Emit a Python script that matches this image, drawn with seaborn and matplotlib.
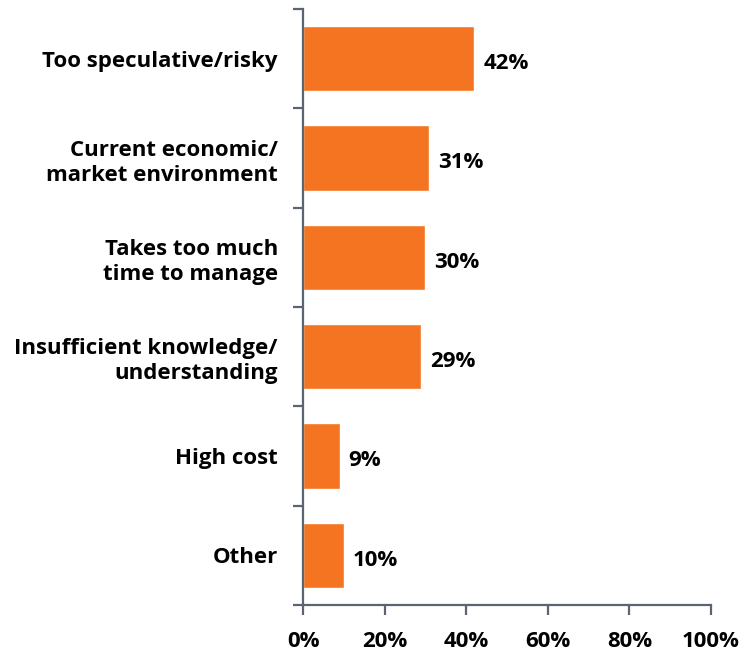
import matplotlib
matplotlib.use("Agg")
import matplotlib.pyplot as plt
from matplotlib.ticker import FixedLocator, PercentFormatter
import seaborn as sns
import pandas as pd
import numpy as np

categories = [
    "Too speculative/risky",
    "Current economic/\nmarket environment",
    "Takes too much\ntime to manage",
    "Insufficient knowledge/\nunderstanding",
    "High cost",
    "Other",
]
values = [42, 31, 30, 29, 9, 10]
x_ticks = [0, 20, 40, 60, 80, 100]

sns.set_style("white")
plt.rcParams["font.family"] = ["Open Sans", "DejaVu Sans"]

BAR = "#F47421"
AXIS = "#5B6470"
FS = 16

df = pd.DataFrame({"reason": categories, "pct": values})

fig = plt.figure(figsize=(7.45, 6.55), dpi=100)
ax = fig.add_axes([303 / 745, 50 / 655, 408 / 745, 596 / 655])

sns.barplot(data=df, x="pct", y="reason", orient="h", color=BAR,
            width=0.66, saturation=1, ax=ax)

ax.set_xlim(0, 100)
ax.set_ylim(len(categories) - 0.5, -0.5)
ax.set_xlabel("")
ax.set_ylabel("")

for i, v in enumerate(values):
    ax.text(v + 2.2, i + 0.05, f"{v}%", va="center", ha="left",
            fontsize=FS, fontweight="bold", color="black")

ax.xaxis.set_major_locator(FixedLocator(x_ticks))
ax.xaxis.set_major_formatter(PercentFormatter(decimals=0))
ax.tick_params(axis="x", which="major", bottom=True, direction="out",
               length=7, width=1.6, color=AXIS, pad=12, labelsize=FS,
               labelcolor="black")
for lab in ax.get_xticklabels():
    lab.set_fontweight("bold")

# category boundaries carry the tick marks, labels sit at centres
ax.yaxis.set_minor_locator(FixedLocator(np.arange(-0.5, len(categories), 1.0)))
ax.tick_params(axis="y", which="major", left=True, length=0, pad=18,
               labelsize=FS, labelcolor="black")
ax.tick_params(axis="y", which="minor", left=True, direction="out",
               length=7, width=1.6, color=AXIS)
for lab in ax.get_yticklabels():
    lab.set_fontweight("bold")
    lab.set_multialignment("right")
    lab.set_linespacing(1.25)

for side in ["top", "right"]:
    ax.spines[side].set_visible(False)
for side in ["left", "bottom"]:
    ax.spines[side].set_color(AXIS)
    ax.spines[side].set_linewidth(1.6)

fig.savefig("out.png", dpi=100)
